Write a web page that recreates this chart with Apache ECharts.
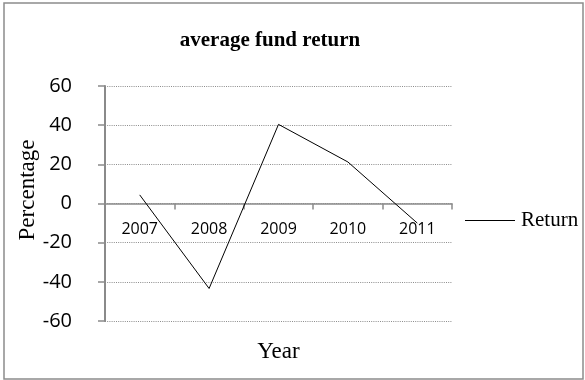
<!DOCTYPE html>
<html>
<head>
<meta charset="utf-8">
<script src="https://cdn.jsdelivr.net/npm/echarts@6/dist/echarts.min.js"></script>
<style>
  html, body { margin: 0; padding: 0; background: #fff; }
  #chart { width: 585px; height: 380px; }
</style>
</head>
<body>
<div id="chart"></div>
<script>
// Average fund return by year
const years = ['2007', '2008', '2009', '2010', '2011'];
const returns = [4.4, -43.4, 40.4, 21.2, -10];
const yTicks = { min: -60, max: 60, step: 20 };

const serif = 'Liberation Serif, Times New Roman, serif';
const sans = 'Open Sans, Liberation Sans, sans-serif';
const axisGray = '#8a8a8a';

// plot box in pixels; the category axis is lifted up to the zero line
const plotTop = 86, plotBottom = 59, chartHeight = 380;
const plotHeight = chartHeight - plotTop - plotBottom;
const zeroLift = plotHeight * (0 - yTicks.min) / (yTicks.max - yTicks.min);

const chart = echarts.init(document.getElementById('chart'), null, { renderer: 'canvas' });

chart.setOption({
  animation: false,
  backgroundColor: '#fff',
  title: {
    text: 'average fund return',
    left: 265,
    top: 25,
    textAlign: 'center',
    textStyle: { fontFamily: serif, fontWeight: 'bold', fontSize: 21, color: '#000' }
  },
  legend: {
    data: ['Return'],
    left: 460,
    top: 205,
    icon: 'rect',
    itemWidth: 50,
    itemHeight: 1.2,
    itemGap: 6,
    itemStyle: { color: '#000' },
    textStyle: { fontFamily: serif, fontSize: 21, color: '#000', padding: [0, 0, 0, 1] }
  },
  grid: {
    left: 105, right: 133, top: plotTop, bottom: plotBottom,
    containLabel: false,
    outerBoundsMode: 'none'
  },
  xAxis: {
    type: 'category',
    data: years,
    boundaryGap: true,
    position: 'bottom',
    offset: -zeroLift,
    name: 'Year',
    nameLocation: 'middle',
    nameGap: 137,
    nameTextStyle: { fontFamily: serif, fontSize: 23, color: '#000' },
    axisLine: { onZero: false, lineStyle: { color: axisGray, width: 1.5 } },
    axisTick: { show: true, inside: false, length: 6, lineStyle: { color: axisGray, width: 1.5 } },
    axisLabel: { fontFamily: sans, fontSize: 16, color: '#000', margin: 18 },
    splitLine: { show: false }
  },
  yAxis: {
    type: 'value',
    min: yTicks.min,
    max: yTicks.max,
    interval: yTicks.step,
    axisLine: { show: true, lineStyle: { color: axisGray, width: 2 } },
    axisTick: { show: true, inside: false, length: 7, lineStyle: { color: axisGray, width: 1.5 } },
    axisLabel: { fontFamily: sans, fontSize: 20, color: '#000', margin: 33 },
    splitLine: { show: true, lineStyle: { color: '#8c8c8c', width: 1, type: [1, 1.2] } }
  },
  graphic: [
    {
      type: 'rect',
      shape: { x: 4, y: 3, width: 579, height: 376 },
      style: { fill: 'none', stroke: '#8c8c8c', lineWidth: 1.5 },
      silent: true,
      z: -1
    },
    {
      type: 'text',
      x: 28,
      y: 190,
      rotation: Math.PI / 2,
      style: {
        text: 'Percentage',
        font: '23px ' + serif,
        fill: '#000',
        align: 'center',
        verticalAlign: 'middle'
      }
    }
  ],
  series: [
    {
      name: 'Return',
      type: 'line',
      data: returns,
      symbol: 'none',
      lineStyle: { color: '#000', width: 1 },
      itemStyle: { color: '#000' }
    }
  ]
});
</script>
</body>
</html>
